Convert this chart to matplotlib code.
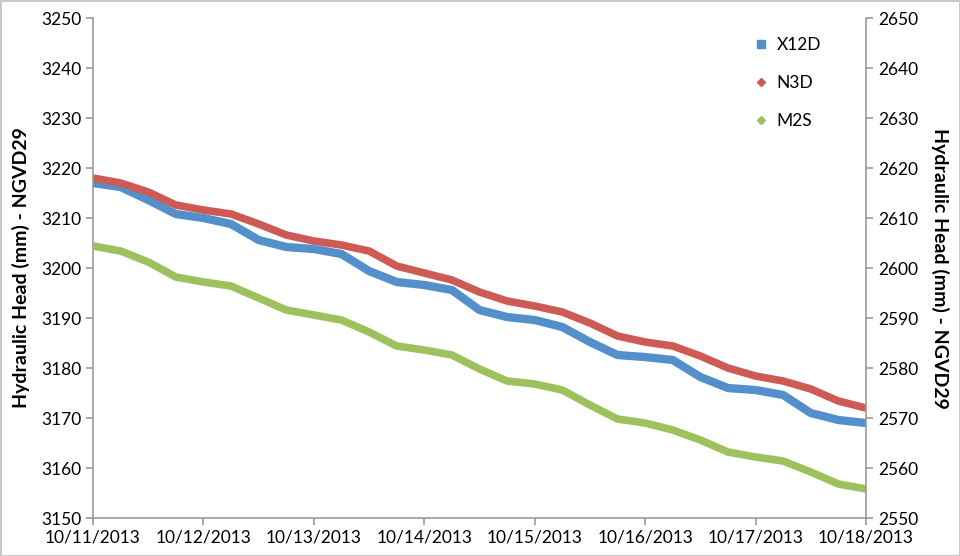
import matplotlib
matplotlib.use("Agg")
import matplotlib.pyplot as plt
import matplotlib.dates as mdates
import pandas as pd

plt.rcParams['font.family'] = ['Lato', 'DejaVu Sans']

# sample times, every 6 hours
times = pd.date_range('2013-10-11 00:00', periods=29, freq='6h')

# left axis (mm, NGVD29)
x12d = [3217.0, 3216.2, 3213.6, 3210.8, 3210.0, 3208.8, 3205.6, 3204.2, 3203.8, 3202.8,
        3199.4, 3197.2, 3196.6, 3195.6, 3191.6, 3190.2, 3189.6, 3188.2, 3185.2, 3182.6,
        3182.2, 3181.6, 3178.2, 3176.0, 3175.6, 3174.6, 3171.0, 3169.6, 3169.0]
n3d = [3218.0, 3217.0, 3215.2, 3212.6, 3211.6, 3210.8, 3208.8, 3206.6, 3205.4, 3204.6,
       3203.4, 3200.4, 3199.0, 3197.6, 3195.2, 3193.4, 3192.4, 3191.2, 3189.0, 3186.4,
       3185.2, 3184.4, 3182.4, 3180.0, 3178.4, 3177.4, 3175.8, 3173.4, 3172.0]
# right axis
m2s = [2604.4, 2603.4, 2601.2, 2598.2, 2597.2, 2596.4, 2594.0, 2591.6, 2590.6, 2589.6,
       2587.2, 2584.4, 2583.6, 2582.6, 2579.8, 2577.4, 2576.8, 2575.6, 2572.6, 2569.8,
       2569.0, 2567.6, 2565.6, 2563.2, 2562.2, 2561.4, 2559.2, 2556.8, 2555.8]

blue = '#5390CB'
red = '#CD5A55'
green = '#9DC15C'

fig = plt.figure(figsize=(9.6, 5.56), dpi=100)
fig.patch.set_edgecolor('#c8c8c8')
fig.patch.set_linewidth(2)
ax = fig.add_axes([0.0969, 0.0683, 0.8052, 0.8993])
ax2 = ax.twinx()

ax.plot(times, x12d, color=blue, lw=6, solid_capstyle='butt', solid_joinstyle='round')
ax.plot(times, n3d, color=red, lw=5.5, solid_capstyle='butt', solid_joinstyle='round')
ax2.plot(times, m2s, color=green, lw=5.5, solid_capstyle='butt', solid_joinstyle='round')

ax.set_ylim(3150, 3250)
ax2.set_ylim(2550, 2650)
ax.set_yticks(range(3150, 3251, 10))
ax2.set_yticks(range(2550, 2651, 10))
ax.set_xlim(pd.Timestamp('2013-10-11'), pd.Timestamp('2013-10-18'))
ax.xaxis.set_major_locator(mdates.DayLocator())
ax.xaxis.set_major_formatter(mdates.DateFormatter('%m/%d/%Y'))

for a in (ax, ax2):
    a.spines['top'].set_visible(False)
    for s in ('left', 'right', 'bottom'):
        a.spines[s].set_color('#9a9a9a')
        a.spines[s].set_linewidth(1.2)
    a.tick_params(direction='out', length=5, color='#9a9a9a', labelsize=12.5, width=1.2)
ax.spines['right'].set_visible(False)
ax2.spines['left'].set_visible(False)
ax2.spines['bottom'].set_visible(False)

ax.set_ylabel('Hydraulic Head (mm) - NGVD29', fontsize=14, fontweight='bold', labelpad=8)
ax2.set_ylabel('Hydraulic Head (mm) - NGVD29', fontsize=14, fontweight='bold',
               rotation=270, labelpad=22)

handles = [
    plt.Line2D([], [], color=blue, marker='s', ls='', markersize=6),
    plt.Line2D([], [], color=red, marker='D', ls='', markersize=4.5),
    plt.Line2D([], [], color=green, marker='D', ls='', markersize=4.5),
]
ax2.legend(handles, ['X12D', 'N3D', 'M2S'], loc='upper right', frameon=False,
           fontsize=12.5, labelspacing=1.27, handlelength=0.8, handletextpad=0.5,
           bbox_to_anchor=(0.962, 0.993))

fig.savefig('out.png', dpi=100)
